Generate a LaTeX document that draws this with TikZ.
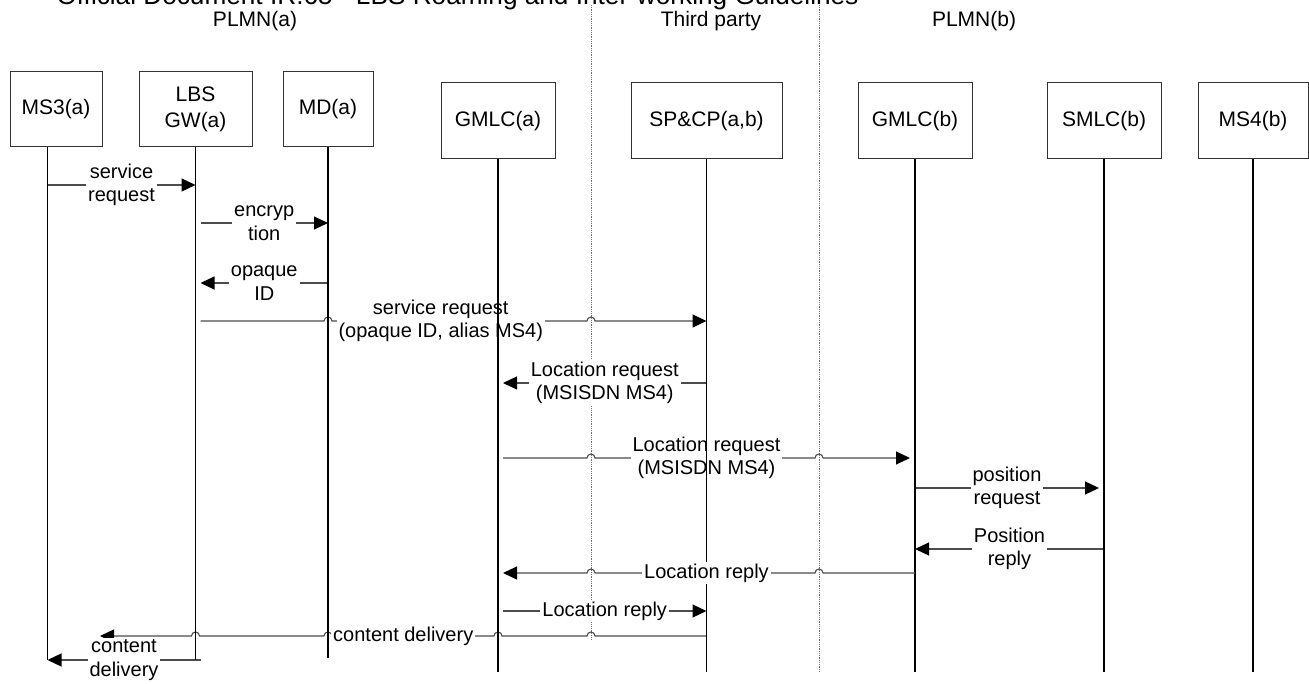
\documentclass[tikz,border=0pt]{standalone}
\usepackage{fontspec}
\setmainfont{Liberation Sans}
\usetikzlibrary{arrows.meta,calc}

\newcommand{\hopr}[2]{-- ($(#1 |- 0,#2)+(-4,0)$) arc[start angle=180,end angle=0,radius=4pt]}
\newcommand{\hopl}[2]{-- ($(#1 |- 0,#2)+(4,0)$) arc[start angle=0,end angle=180,radius=4pt]}

\begin{document}
\begin{tikzpicture}[x=1pt,y=-1pt,
  entity/.style={draw=black!80,line width=1pt,minimum height=75pt,inner sep=0pt,align=center,font=\fontsize{21}{26}\selectfont},
  head/.style={font=\fontsize{21}{25}\selectfont},
  life/.style={line width=1.5pt},
  zone/.style={draw=black!55,densely dotted,line width=0.8pt},
  msg/.style={draw=black!70,line width=1.1pt,-{Triangle[length=14pt,width=13pt,color=black]}},
  lbl/.style={fill=white,inner sep=2pt,align=center,font=\fontsize{20}{23.5}\selectfont}]
\useasboundingbox (0,0) rectangle (1309,684);
\clip (0,0) rectangle (1309,684);

% title and domains
\node[anchor=base west,font=\fontsize{26.2}{30}\selectfont] (title) at (53,5) {Official Document IR.65 - LBS Roaming and Inter-working Guidelines};
\node[head] (plmna) at (255,21) {PLMN(a)};
\node[head] (third) at (711,21) {Third party};
\node[head] (plmnb) at (974,21) {PLMN(b)};
\coordinate (z1) at (591,5);
\coordinate (z2) at (819,5);
\draw[zone] (z1) -- (z1 |- 0,640);
\draw[zone] (z2) -- (z2 |- 0,672);

% entities
\node[entity,minimum width=92pt] (ms3) at (56,109) {MS3(a)};
\node[entity,minimum width=113pt] (gw) at (195.5,109) {LBS\\GW(a)};
\node[entity,minimum width=90pt] (md) at (328,109) {MD(a)};
\node[entity,minimum width=114pt,minimum height=76pt] (gmlca) at (498,121) {GMLC(a)};
\node[entity,minimum width=151pt,minimum height=76pt] (spcp) at (706.5,121) {SP\&CP(a,b)};
\node[entity,minimum width=114pt,minimum height=76pt] (gmlcb) at (915,121) {GMLC(b)};
\node[entity,minimum width=114pt,minimum height=76pt] (smlc) at (1104,121) {SMLC(b)};
\node[entity,minimum width=110pt,minimum height=76pt] (ms4) at (1253,121) {MS4(b)};
\coordinate (ms3-top) at ([xshift=-8.5pt]ms3.south);
\coordinate (cd-end) at (100,636);

% messages
\draw[msg] (ms3-top |- 0,185) -- (gw |- 0,185) node[lbl,midway] (m1) {service\\request};
\draw[msg] ($(gw |- 0,223)+(5,0)$) -- (md |- 0,223) node[lbl,midway] (m2) {encryp\\tion};
\draw[msg] (md |- 0,283) -- ($(gw |- 0,283)+(5,0)$) node[lbl,midway] (m3) {opaque\\ID};
\draw[msg] ($(gw |- 0,321)+(5,0)$) \hopr{md}{321} \hopr{z1}{321} -- (spcp |- 0,321);
\node[lbl] (m4) at ($(gw |- 0,321)!.48!(spcp |- 0,321)$) {service request\\(opaque ID, alias MS4)};
\draw[msg] (spcp |- 0,383) -- ($(gmlca |- 0,383)+(5,0)$) node[lbl,midway] (m5) {Location request\\(MSISDN MS4)};
\draw[msg] ($(gmlca |- 0,458)+(5,0)$) \hopr{z1}{458} \hopr{z2}{458} -- ($(gmlcb |- 0,458)+(-5,0)$);
\node[lbl] (m6) at ($(gmlca |- 0,458)!.5!(gmlcb |- 0,458)$) {Location request\\(MSISDN MS4)};
\draw[msg] (gmlcb |- 0,488) -- ($(smlc |- 0,488)+(-5,0)$) node[lbl,midway] (m7) {position\\request};
\draw[msg] (smlc |- 0,549) -- (gmlcb |- 0,549) node[lbl,midway] (m8) {Position\\reply};
\draw[msg] ($(gmlca |- 0,611)+(5,0)$) -- (spcp |- 0,611) node[lbl,midway] (m10) {Location reply};
\draw[msg] (spcp |- 0,636) \hopl{z1}{636} \hopl{gmlca}{636} \hopl{md}{636} \hopl{gw}{636} -- (cd-end);
\node[lbl] (m11) at ($(spcp |- 0,636)!.5!(cd-end)$) {content delivery};
\draw[msg] ($(gw |- 0,660)+(5,0)$) -- (ms3-top |- 0,660) node[lbl,midway] (m12) {content\\delivery};

% lifelines
\draw[life] (ms3-top) -- (ms3-top |- 0,660);
\draw[life] (gw.south) -- (gw |- 0,660);
\draw[life] (md.south) -- (md |- 0,658);
\draw[life] (gmlca.south) -- (gmlca |- 0,672);
\draw[life] (spcp.south) -- (spcp |- 0,672);
\draw[life] (gmlcb.south) -- (gmlcb |- 0,672);
\draw[life] (smlc.south) -- (smlc |- 0,672);
\draw[life] (ms4.south) -- (ms4 |- 0,672);

% reply drawn over the SP&CP lifeline
\draw[msg] (gmlcb |- 0,573) \hopl{z2}{573} \hopl{z1}{573} -- ($(gmlca |- 0,573)+(5,0)$);
\node[lbl] (m9) at ($(gmlcb |- 0,573)!.5!(gmlca |- 0,573)$) {Location reply};
\end{tikzpicture}
\end{document}
